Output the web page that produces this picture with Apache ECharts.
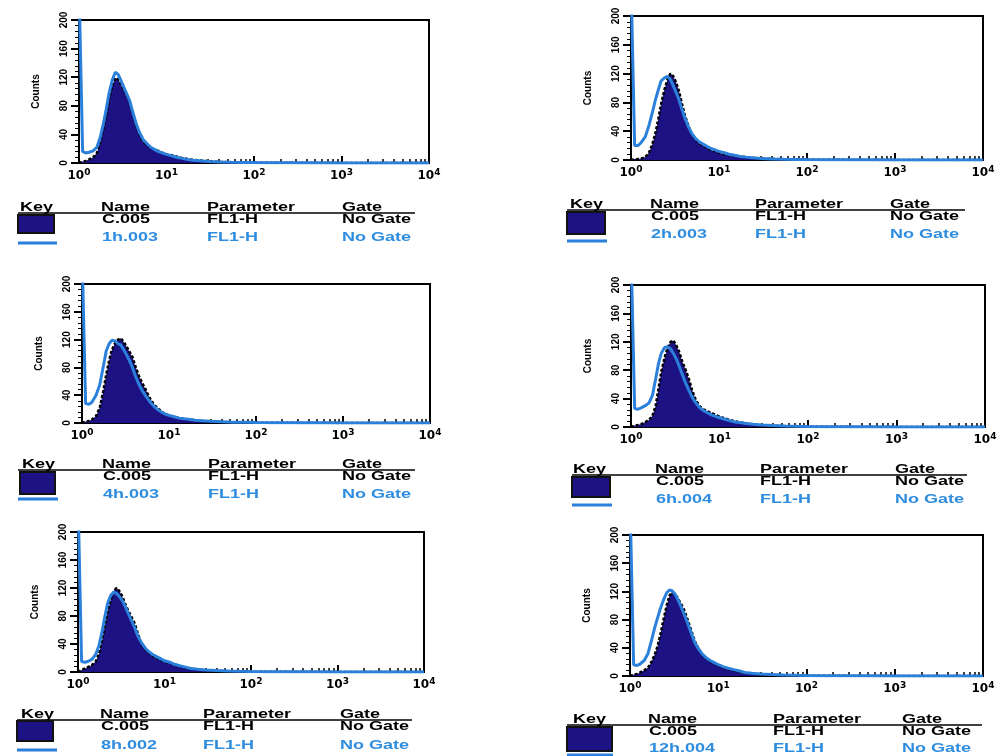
<!DOCTYPE html>
<html>
<head>
<meta charset="utf-8">
<script src="https://cdn.jsdelivr.net/npm/echarts@6/dist/echarts.min.js"></script>
<style>
html,body{margin:0;padding:0;background:#fff;}
#chart{width:1003px;height:756px;}
</style>
</head>
<body>
<div id="chart"></div>
<script>
// ---- DATA ----
const X = [1.0, 1.1, 1.2, 1.3, 1.45, 1.6, 1.75, 1.9, 2.05, 2.2, 2.4, 2.6, 2.8, 3.0, 3.25, 3.5, 3.8, 4.1, 4.5, 4.9, 5.4, 6.0, 6.6, 7.3, 8.1, 9.0, 10, 11.5, 13, 15, 17.5, 20, 24, 30, 40, 55, 75, 100, 150, 250, 500, 1000, 3000, 10000];

const C1 = [0, 2, 3, 5, 8, 14, 30, 48, 68, 88, 108, 119, 117, 110, 102, 95, 86, 70, 52, 40, 30, 25, 21, 19, 17, 14, 12, 11, 9, 7, 5.5, 4.5, 3.5, 2.5, 1.5, 1, 0.7, 0.5, 0.3, 0.2, 0.1, 0, 0, 0];
const S1 = [250, 16, 14, 15, 17, 22, 36, 55, 76, 97, 116, 127, 124, 116, 106, 97, 87, 72, 55, 43, 33, 27, 22, 19, 16, 14, 12, 10, 8, 6.5, 5, 4, 3, 2.2, 1.5, 1, 0.8, 0.6, 0.4, 0.3, 0.2, 0.1, 0.1, 0];

const C2 = [0, 1, 1.5, 2, 4, 10, 22, 38, 58, 78, 98, 112, 120, 117, 108, 96, 78, 62, 47, 36, 28, 23, 20, 17, 14, 12, 10, 8, 7, 6, 5, 4, 3, 2, 1.5, 1, 0.7, 0.5, 0.3, 0.2, 0.1, 0, 0, 0];
const S2 = [250, 20, 20, 24, 32, 48, 66, 84, 98, 110, 114, 116, 112, 104, 94, 84, 70, 58, 46, 37, 30, 25, 22, 19, 16, 14, 12, 10, 8, 6.5, 5, 4, 3, 2.2, 1.5, 1, 0.8, 0.6, 0.4, 0.3, 0.2, 0.1, 0.1, 0];

const C3 = [0, 2, 3, 5, 10, 22, 45, 70, 90, 105, 115, 120, 122, 117, 110, 103, 95, 82, 68, 58, 48, 36, 28, 22, 17, 13, 11, 9, 7, 6, 5, 4, 3, 2.2, 1.5, 1, 0.7, 0.5, 0.3, 0.2, 0.1, 0, 0, 0];
const S3 = [250, 28, 27, 30, 40, 55, 80, 104, 114, 119, 118, 114, 112, 106, 98, 90, 80, 68, 56, 47, 39, 31, 25, 20, 16, 13, 11, 9, 7, 6, 5, 4, 3.2, 2.5, 1.8, 1.2, 0.9, 0.6, 0.4, 0.3, 0.2, 0.1, 0.1, 0];

const C4 = [0, 3, 5, 7, 10, 15, 26, 45, 66, 86, 104, 116, 120, 116, 108, 98, 88, 80, 70, 56, 40, 32, 27, 23, 20, 17, 15, 13, 11, 8, 6, 5, 3.5, 2.5, 1.5, 1, 0.7, 0.5, 0.3, 0.2, 0.1, 0, 0, 0];
const S4 = [250, 15, 14, 15, 18, 25, 38, 58, 80, 98, 110, 114, 112, 108, 102, 94, 84, 75, 64, 52, 42, 34, 29, 25, 22, 19, 16, 14, 11, 9, 7, 5, 4, 3, 2.2, 1.5, 1, 0.7, 0.5, 0.3, 0.2, 0.1, 0.1, 0];

const C5 = [0, 2, 3, 4, 7, 10, 16, 30, 55, 78, 98, 112, 120, 122, 115, 106, 92, 82, 68, 52, 38, 29, 25, 22, 20, 17, 15, 12, 10, 8, 6.5, 5, 3.5, 2.5, 1.8, 1.2, 0.8, 0.5, 0.3, 0.2, 0.1, 0, 0, 0];
const S5 = [250, 26, 25, 27, 30, 34, 45, 68, 90, 104, 112, 113, 110, 104, 96, 86, 74, 63, 52, 42, 34, 27, 23, 20, 17, 15, 13, 11, 9, 7, 6, 5, 3.8, 2.8, 2, 1.4, 1, 0.7, 0.5, 0.3, 0.2, 0.1, 0.1, 0];

const C6 = [0, 2, 3, 5, 8, 12, 20, 30, 42, 58, 80, 100, 114, 119, 116, 110, 102, 94, 80, 66, 50, 38, 30, 25, 21, 18, 15, 12, 10, 8, 6, 4.5, 3.5, 2.5, 1.5, 1, 0.7, 0.5, 0.3, 0.2, 0.1, 0, 0, 0];
const S6 = [250, 16, 15, 17, 22, 32, 50, 68, 82, 95, 108, 118, 122, 121, 116, 108, 98, 88, 75, 62, 48, 38, 31, 26, 22, 19, 16, 13, 11, 9, 7, 5, 4, 3, 2.2, 1.5, 1, 0.7, 0.5, 0.3, 0.2, 0.1, 0.1, 0];

const CONTROLS = [C1, C2, C3, C4, C5, C6];
const SAMPLES = [S1, S2, S3, S4, S5, S6];
const SAMPLE_NAMES = ['1h.003', '2h.003', '4h.003', '8h.002', '6h.004', '12h.004'];
const CONTROL_NAME = 'C.005';
const PARAMETER = 'FL1-H';
const GATE = 'No Gate';
const HEADERS = ['Key', 'Name', 'Parameter', 'Gate'];
const X_TICKS = [1, 10, 100, 1000, 10000];
const Y_TICKS = [0, 40, 80, 120, 160, 200];
const Y_NAME = 'Counts';

// ---- LAYOUT (positions only) ----
const NAVY = '#1d1283';
const BLUE = '#2b80db';
const LBLUE = '#2f8de0';
const PANELS = [
  {g:[79, 20, 350, 143],  k:20,  hy:208, ux:[18,415],  uy:213, r:[220,238], box:[18,215,36,18], ly:243, lx:[18,57],  cols:[101,207,342]},
  {g:[631, 16, 352, 144], k:570, hy:205, ux:[567,965], uy:210, r:[217,235], box:[567,212,38,22], ly:241, lx:[567,607], cols:[650,755,890]},
  {g:[82, 284, 348, 139], k:22,  hy:465, ux:[18,415],  uy:470, r:[477,495], box:[20,472,35,22], ly:499, lx:[18,58],  cols:[102,208,342]},
  {g:[78, 532, 346, 140], k:21,  hy:715, ux:[17,412],  uy:720, r:[727,746], box:[17,721,36,20], ly:750, lx:[17,57],  cols:[100,203,340]},
  {g:[631, 285, 354, 142],k:573, hy:470, ux:[572,967], uy:475, r:[482,500], box:[572,477,38,20], ly:505, lx:[572,612], cols:[655,760,895]},
  {g:[630, 535, 353, 141],k:573, hy:720, ux:[567,982], uy:725, r:[732,749], box:[567,727,45,24], ly:755, lx:[567,613], cols:[648,773,902]}
];

const MINOR_LOG = [];
for (let d = 0; d < 4; d++) for (let m = 2; m <= 9; m++) MINOR_LOG.push(d + Math.log10(m));

const chart = echarts.init(document.getElementById('chart'), null, {renderer:'canvas'});

const grids = [], xAxes = [], yAxes = [], series = [], graphics = [];
const FONT = 'Liberation Sans, Arial, sans-serif';
const SX = 1.5;

function txt(x, y, s, color, size) {
  graphics.push({type:'text', x:x, y:y, scaleX:SX, scaleY:1, silent:true,
    style:{text:s, fill:color, font:'bold ' + (size||12) + 'px ' + FONT, textAlign:'left', textVerticalAlign:'middle'}});
}

PANELS.forEach((p, i) => {
  grids.push({left:p.g[0], top:p.g[1], width:p.g[2], height:p.g[3], show:true, borderColor:'#000', borderWidth:2, backgroundColor:'#fff'});
  xAxes.push({type:'log', logBase:10, gridIndex:i, min:X_TICKS[0], max:X_TICKS[X_TICKS.length-1], position:'bottom',
    splitLine:{show:false},
    axisLine:{lineStyle:{color:'#000', width:2}},
    axisTick:{inside:true, length:7, lineStyle:{color:'#000', width:2}},
    axisLabel:{margin:5, showMinLabel:true, showMaxLabel:true,
      formatter: v => '{b|10}{s|' + Math.round(Math.log10(v)) + '}',
      rich:{b:{fontFamily:'DejaVu Sans', fontWeight:'bold', fontSize:12, color:'#000'},
            s:{fontFamily:'DejaVu Sans', fontWeight:'bold', fontSize:9, color:'#000', padding:[0,0,7,0]}}}
  });
  yAxes.push({type:'value', gridIndex:i, min:Y_TICKS[0], max:Y_TICKS[Y_TICKS.length-1], interval:Y_TICKS[1]-Y_TICKS[0],
    name:Y_NAME, nameLocation:'middle', nameRotate:90, nameGap:38,
    nameTextStyle:{fontFamily:FONT, fontWeight:'bold', fontSize:10, color:'#000'},
    axisLine:{show:true, lineStyle:{color:'#000', width:2}},
    axisTick:{show:true, length:8, lineStyle:{color:'#000', width:2}},
    minorTick:{show:true, splitNumber:5, length:4, lineStyle:{color:'#000', width:1}},
    axisLabel:{rotate:90, margin:10, fontFamily:FONT, fontSize:10, fontWeight:'bold', color:'#000'},
    splitLine:{show:false}
  });
  series.push({type:'line', name:CONTROL_NAME, xAxisIndex:i, yAxisIndex:i, symbol:'none', z:2,
    data: X.map((x, j) => [x, CONTROLS[i][j]]),
    lineStyle:{color:'#000', width:2.5, type:[3,2]},
    areaStyle:{color:NAVY, opacity:1}
  });
  series.push({type:'line', name:SAMPLE_NAMES[i], xAxisIndex:i, yAxisIndex:i, symbol:'none', z:3,
    data: X.map((x, j) => [x, SAMPLES[i][j]]),
    lineStyle:{color:BLUE, width:3}
  });

  // legend table
  txt(p.k, p.hy, HEADERS[0], '#000');
  txt(p.cols[0], p.hy, HEADERS[1], '#000');
  txt(p.cols[1], p.hy, HEADERS[2], '#000');
  txt(p.cols[2], p.hy, HEADERS[3], '#000');
  graphics.push({type:'line', silent:true, shape:{x1:p.ux[0], y1:p.uy, x2:p.ux[1], y2:p.uy}, style:{stroke:'#000', lineWidth:1.5}});
  txt(p.cols[0] + 1, p.r[0], CONTROL_NAME, '#000');
  txt(p.cols[1], p.r[0], PARAMETER, '#000');
  txt(p.cols[2], p.r[0], GATE, '#000');
  txt(p.cols[0] + 1, p.r[1], SAMPLE_NAMES[i], LBLUE);
  txt(p.cols[1], p.r[1], PARAMETER, LBLUE);
  txt(p.cols[2], p.r[1], GATE, LBLUE);
  graphics.push({type:'rect', silent:true, shape:{x:p.box[0], y:p.box[1], width:p.box[2], height:p.box[3]}, style:{fill:NAVY, stroke:'#111', lineWidth:2}});
  graphics.push({type:'line', silent:true, shape:{x1:p.lx[0], y1:p.ly, x2:p.lx[1], y2:p.ly}, style:{stroke:BLUE, lineWidth:3}});
});

// minor log ticks (drawn on value axes in log10 units that coincide with the log axes)
PANELS.forEach((p, i) => {
  xAxes.push({type:'value', gridIndex:i, min:0, max:4, position:'bottom',
    axisLine:{show:false}, axisLabel:{show:false}, splitLine:{show:false},
    axisTick:{show:true, inside:true, length:4, customValues:MINOR_LOG, lineStyle:{color:'#000', width:1.5}}
  });
});

chart.setOption({
  backgroundColor:'#fff',
  animation:false,
  grid:grids, xAxis:xAxes, yAxis:yAxes, series:series, graphic:graphics
});
</script>
</body>
</html>
